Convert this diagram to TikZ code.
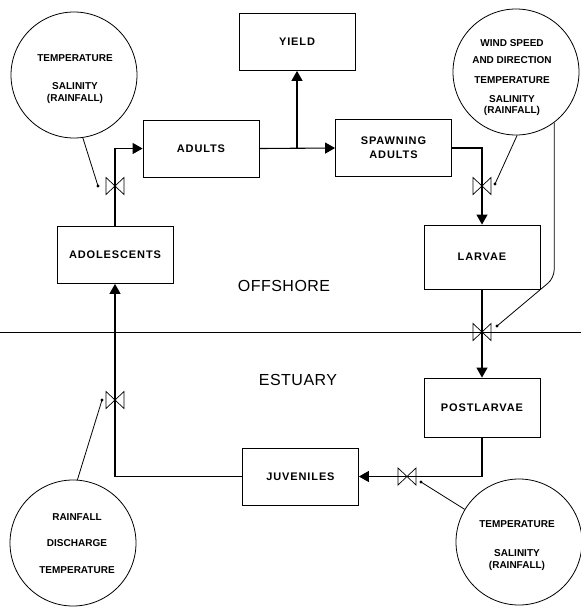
\documentclass[tikz,border=0pt]{standalone}
\usepackage{fontspec}
\setmainfont{Liberation Sans}
\newfontfamily\lblfam[LetterSpace=8]{Liberation Sans}
\newfontfamily\regfam[LetterSpace=3]{Liberation Sans}
\usetikzlibrary{arrows.meta}
\begin{document}
\begin{tikzpicture}[x=1pt,y=-1pt,
  box/.style={draw, line width=0.8pt, minimum width=116pt, minimum height=57pt, inner sep=0pt, align=center,
    font=\lblfam\bfseries\fontsize{11}{14}\selectfont},
  cloud/.style={draw, circle, line width=0.8pt, minimum size=126pt, inner sep=0pt},
  ctext/.style={inner sep=0pt, font=\bfseries\fontsize{10}{11}\selectfont},
  zone/.style={inner sep=0pt, font=\regfam\fontsize{16}{18}\selectfont},
  flow/.style={line width=1.1pt},
  arr/.style={-{Triangle[width=11pt,length=10pt]}},
  thin/.style={line width=0.8pt},
  valve/.pic={\draw[line width=0.7pt] (-9,-8.5) -- (9,8.5) -- (9,-8.5) -- (-9,8.5) -- cycle;}
]
\useasboundingbox (0,0) rectangle (581,608);

% boxes
\node[box] (yield)  at (297,42)    {YIELD};
\node[box] (adults) at (201,148.5) {ADULTS};
\node[box] (spawn)  at (393.5,148) {SPAWNING\\ADULTS};
\node[box] (adol)   at (115,255)   {ADOLESCENTS};
\node[box, minimum height=64pt] (larvae) at (482,257) {LARVAE};
\node[box, minimum height=59pt] (post)   at (482,407.5) {POSTLARVAE};
\node[box] (juv)    at (300.5,476.5) {JUVENILES};

% zone labels
\node[zone] (off) at (284,286) {OFFSHORE};
\node[zone] (est) at (298,380) {ESTUARY};

% boundary line
\coordinate (sl) at (0,332);
\coordinate (sr) at (581,332);
\draw[thin] (sl) -- (sr);

% flows
\draw[flow,arr] (adol.north) -- (adol.north |- adults.west) -- (adults.west);
\draw[flow,arr] (adults.east) -- (spawn.west);
\draw[flow,arr] (yield.south |- adults.east) -- (yield.south);
\draw[flow,arr] (spawn.east) -- (larvae.north |- spawn.east) -- (larvae.north);
\draw[flow,arr] (larvae.south) -- (post.north);
\draw[flow,arr] (post.south) -- (post.south |- juv.east) -- (juv.east);
\draw[flow,arr] (juv.west) -- (adol.south |- juv.west) -- (adol.south);

% valves
\coordinate (v1) at (115,186);
\coordinate (v2) at (482,186);
\coordinate (v3) at (482,332);
\coordinate (v4) at (407,476.5);
\coordinate (v5) at (115,400);
\foreach \v in {v1,v2,v3,v4,v5} \pic at (\v) {valve};

% circles
\node[cloud] (c1) at (74,75) {};
\node[cloud] (c2) at (516,72) {};
\node[cloud] (c3) at (73,543) {};
\node[cloud] (c4) at (519,542) {};

\node[ctext] (t1a) at (75,58) {TEMPERATURE};
\node[ctext] (t1b) at (75,86) {SALINITY};
\node[ctext] (t1c) at (75,99) {(RAINFALL)};

\node[ctext] (t2a) at (512,43) {WIND SPEED};
\node[ctext] (t2b) at (512,60) {AND DIRECTION};
\node[ctext] (t2c) at (512,80) {TEMPERATURE};
\node[ctext] (t2d) at (512,99) {SALINITY};
\node[ctext] (t2e) at (512,111) {(RAINFALL)};

\node[ctext] (t3a) at (77,517) {RAINFALL};
\node[ctext] (t3b) at (77,543) {DISCHARGE};
\node[ctext] (t3c) at (77,570) {TEMPERATURE};

\node[ctext] (t4a) at (517,524) {TEMPERATURE};
\node[ctext] (t4b) at (517,553) {SALINITY};
\node[ctext] (t4c) at (517,566) {(RAINFALL)};

% dots
\coordinate (d1) at (98,186);
\coordinate (d2) at (495,184);
\coordinate (d3) at (497,326);
\coordinate (d4) at (421,482);
\coordinate (d5) at (102,400);
\foreach \d in {d1,d2,d3,d4,d5} \fill (\d) circle (1.6);

% influence lines
\coordinate (kink) at (0,278);
\draw[thin] (c1.-82) -- (d1);
\draw[thin] (c2.-89) -- (d2);
\draw[thin, rounded corners=8pt] (c2.-53) -- (c2.-53 |- kink) -- (d3);
\draw[thin] (c3.86) -- (d5);
\draw[thin] (c4.149) -- (d4);
\end{tikzpicture}
\end{document}
